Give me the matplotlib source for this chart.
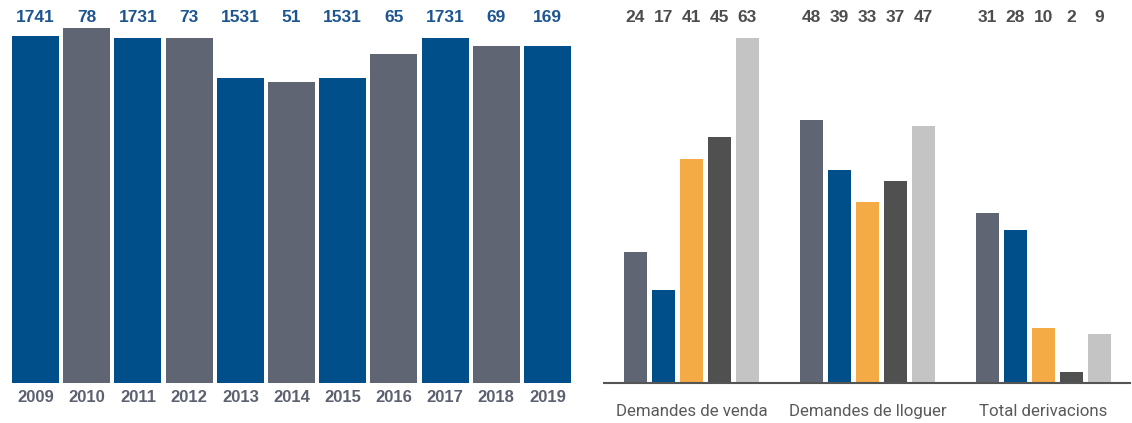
import matplotlib.pyplot as plt
from matplotlib.transforms import blended_transform_factory

# left chart
years = ["2009", "2010", "2011", "2012", "2013", "2014", "2015", "2016", "2017", "2018", "2019"]
year_labels = ["1741", "78", "1731", "73", "1531", "51", "1531", "65", "1731", "69", "169"]
year_heights = [347, 355, 345, 345, 305, 301, 305, 329, 345, 337, 337]

# right chart
groups = ["Demandes de venda", "Demandes de lloguer", "Total derivacions"]
venda = [24, 17, 41, 45, 63]
lloguer = [48, 39, 33, 37, 47]
derivacions = [31, 28, 10, 2, 9]

blue = "#004f8a"
slate = "#5f6573"
orange = "#f5ab45"
dark = "#505050"
light = "#c4c4c4"
series_colors = [slate, blue, orange, dark, light]

fig = plt.figure(figsize=(11.32, 4.23), dpi=100)
W, H = 1132, 423

# ---- left
ax1 = fig.add_axes([10 / W, (H - 383) / H, (573 - 10) / W, 360 / H])
xs = list(range(len(years)))
cols = [blue if i % 2 == 0 else slate for i in xs]
ax1.bar(xs, year_heights, width=0.92, color=cols)
ax1.set_xlim(-0.5, len(years) - 0.5)
ax1.set_ylim(0, 360)
ax1.axis("off")
tr1 = blended_transform_factory(ax1.transData, fig.transFigure)
for x, lab, yr in zip(xs, year_labels, years):
    ax1.text(x, 1 - 17 / H, lab, transform=tr1, ha="center", va="center",
             fontsize=12.5, fontweight="bold", color="#1d5590", family="Liberation Sans")
    ax1.text(x, 1 - 397 / H, yr, transform=tr1, ha="center", va="center",
             fontsize=12, fontweight="bold", color="#5c6170", family="Liberation Sans")

# ---- right
ax2 = fig.add_axes([604 / W, (H - 383) / H, (1130 - 604) / W, 360 / H])
gstep = 176 / 28
tr2 = blended_transform_factory(ax2.transData, fig.transFigure)
for g, vals in enumerate([venda, lloguer, derivacions]):
    for i, v in enumerate(vals):
        x = g * gstep + (i - 2)
        ax2.bar(x, v, width=23 / 28, color=series_colors[i])
        ax2.text(x, 1 - 17 / H, str(v), transform=tr2, ha="center", va="center",
                 fontsize=12.5, fontweight="bold", color="#4d4d4d", family="Liberation Sans")
    ax2.text(g * gstep, 1 - 411 / H, groups[g], transform=tr2, ha="center", va="center",
             fontsize=12.2, color="#5a5a5a", family="Roboto")
ax2.set_xlim(-3.125, 2 * gstep + 3.09)
ax2.set_ylim(0, 360 / 5.47)
for s in ["top", "right", "left"]:
    ax2.spines[s].set_visible(False)
ax2.spines["bottom"].set_color("#555555")
ax2.spines["bottom"].set_linewidth(1.5)
ax2.set_xticks([])
ax2.set_yticks([])
ax2.patch.set_alpha(0)

fig.savefig("out.png", dpi=100)
